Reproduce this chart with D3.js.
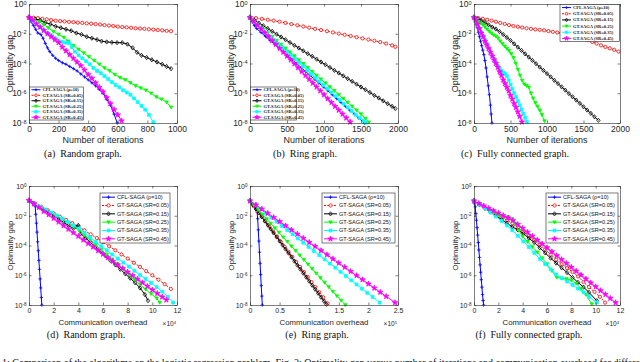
<!DOCTYPE html>
<html>
<head>
<meta charset="utf-8">
<script src="https://cdn.jsdelivr.net/npm/d3@7"></script>
<style>body{margin:0;background:#fff;}</style>
</head>
<body>
<div id="chart"></div>
<script>
(function(){

// legend labels, shared by all panels
const seriesLabels = ["CFL-SAGA (\u03c1=10)","GT-SAGA (SR=0.05)","GT-SAGA (SR=0.15)","GT-SAGA (SR=0.25)","GT-SAGA (SR=0.35)","GT-SAGA (SR=0.45)"];

// tick values
const yTicks = [1,1e-2,1e-4,1e-6,1e-8];
const ticksIter1000 = [0,200,400,600,800,1000];
const ticksIter2000 = [0,500,1000,1500,2000];
const ticksComm12 = [0,2,4,6,8,10,12];
const ticksComm25 = [0,0.5,1,1.5,2,2.5];

// every series: [x, log10(optimality gap)]
// (a) random graph, iterations
const a_cfl = [[0,-0.9],[15,-1.2],[30,-1.45],[45,-1.7],[60,-1.95],[80,-2.05],[95,-2.3],[110,-2.65],[125,-2.95],[140,-3.2],[160,-3.45],[180,-3.65],[200,-3.8],[225,-3.95],[250,-4.05],[275,-4.2],[300,-4.35],[325,-4.5],[350,-4.7],[375,-4.9],[400,-5.1],[425,-5.3],[450,-5.5],[475,-5.75],[500,-6.0],[525,-6.4],[550,-6.8],[575,-7.4],[596,-8.0]];
const a_sr05 = [[0,-0.9],[30,-0.92],[60,-0.95],[90,-1.0],[120,-1.03],[150,-1.08],[180,-1.13],[210,-1.15],[240,-1.17],[270,-1.2],[300,-1.22],[330,-1.25],[360,-1.27],[390,-1.3],[420,-1.32],[450,-1.35],[480,-1.38],[510,-1.42],[540,-1.45],[570,-1.48],[600,-1.52],[630,-1.55],[660,-1.57],[690,-1.6],[720,-1.63],[750,-1.65],[780,-1.67],[810,-1.7],[840,-1.72],[870,-1.75],[900,-1.77],[930,-1.8],[960,-1.83]];
const a_sr15 = [[0,-0.9],[40,-1.0],[75,-1.1],[110,-1.25],[145,-1.35],[180,-1.5],[215,-1.6],[250,-1.7],[285,-1.8],[320,-1.95],[355,-2.05],[390,-2.2],[425,-2.3],[460,-2.4],[490,-2.5],[525,-2.55],[560,-2.58],[595,-2.6],[630,-2.6],[665,-2.7],[700,-2.95],[730,-3.25],[760,-3.45],[795,-3.6],[830,-3.75],[865,-3.9],[900,-4.05],[930,-4.2],[960,-4.35]];
const a_sr25 = [[0,-0.9],[35,-1.05],[70,-1.2],[100,-1.4],[130,-1.6],[165,-1.85],[200,-2.05],[235,-2.25],[265,-2.5],[300,-2.8],[335,-3.05],[370,-3.3],[405,-3.55],[440,-3.8],[475,-4.05],[510,-4.3],[545,-4.5],[580,-4.75],[615,-4.95],[650,-5.1],[685,-5.3],[720,-5.5],[755,-5.65],[790,-5.8],[825,-6.0],[860,-6.25],[895,-6.4],[930,-6.6],[960,-6.95]];
const a_sr35 = [[0,-0.9],[25,-1.1],[50,-1.3],[75,-1.55],[100,-1.75],[125,-1.95],[150,-2.1],[175,-2.3],[200,-2.45],[225,-2.55],[250,-2.6],[270,-2.62],[290,-2.9],[310,-3.2],[335,-3.45],[360,-3.65],[385,-3.85],[410,-4.05],[435,-4.3],[460,-4.5],[485,-4.65],[510,-4.85],[535,-5.05],[560,-5.25],[585,-5.45],[610,-5.6],[635,-5.8],[660,-5.95],[685,-6.1],[710,-6.35],[735,-6.6],[760,-6.85],[785,-7.1],[810,-7.45],[840,-7.95]];
const a_sr45 = [[0,-0.9],[25,-1.1],[50,-1.35],[75,-1.55],[100,-1.78],[125,-2.0],[150,-2.2],[175,-2.4],[200,-2.6],[225,-2.9],[250,-3.15],[275,-3.4],[300,-3.65],[325,-3.9],[350,-4.15],[375,-4.45],[400,-4.75],[425,-5.0],[450,-5.3],[475,-5.6],[500,-5.9],[525,-6.3],[550,-6.7],[575,-7.1],[600,-7.45],[625,-7.85]];

// (b) ring graph, iterations
const b_cfl = [[0,-0.9],[30,-1.2],[60,-1.45],[90,-1.65],[150,-1.92],[210,-2.18],[270,-2.44],[330,-2.7],[390,-2.96],[450,-3.22],[510,-3.48],[570,-3.74],[630,-4.0],[690,-4.27],[750,-4.53],[810,-4.79],[870,-5.05],[930,-5.31],[990,-5.57],[1050,-5.83],[1110,-6.1],[1170,-6.36],[1230,-6.62],[1290,-6.88],[1350,-7.14],[1410,-7.4],[1470,-7.67],[1546,-8.0]];
const b_sr05 = [[0,-0.9],[80,-0.95],[160,-1.0],[240,-1.06],[320,-1.12],[400,-1.19],[480,-1.27],[560,-1.35],[640,-1.43],[720,-1.51],[800,-1.59],[880,-1.67],[960,-1.75],[1040,-1.83],[1120,-1.91],[1200,-1.99],[1280,-2.07],[1360,-2.15],[1440,-2.23],[1520,-2.31],[1600,-2.39],[1680,-2.47],[1760,-2.56],[1840,-2.66],[1920,-2.78],[1964,-2.88]];
const b_sr15 = [[0,-0.9],[60,-1.1],[120,-1.28],[180,-1.46],[240,-1.65],[300,-1.84],[360,-2.03],[420,-2.22],[480,-2.4],[540,-2.59],[600,-2.78],[660,-2.96],[720,-3.15],[780,-3.34],[840,-3.52],[900,-3.71],[960,-3.9],[1020,-4.08],[1080,-4.27],[1140,-4.46],[1200,-4.64],[1260,-4.83],[1320,-5.02],[1380,-5.2],[1440,-5.39],[1500,-5.58],[1560,-5.76],[1620,-5.95],[1680,-6.14],[1740,-6.32],[1800,-6.51],[1860,-6.7],[1920,-6.88],[1964,-7.03]];
const b_sr25 = [[0,-0.9],[60,-1.2],[120,-1.45],[180,-1.7],[240,-1.95],[300,-2.2],[360,-2.46],[420,-2.72],[480,-2.98],[540,-3.24],[600,-3.5],[660,-3.76],[720,-4.02],[780,-4.28],[840,-4.54],[900,-4.8],[960,-5.06],[1020,-5.32],[1080,-5.58],[1140,-5.84],[1200,-6.1],[1260,-6.36],[1320,-6.62],[1380,-6.88],[1440,-7.14],[1500,-7.4],[1560,-7.7],[1605,-7.95]];
const b_sr35 = [[0,-0.9],[55,-1.2],[110,-1.45],[165,-1.7],[220,-1.95],[275,-2.2],[330,-2.45],[385,-2.7],[440,-2.95],[495,-3.2],[550,-3.45],[605,-3.7],[660,-3.95],[715,-4.2],[770,-4.45],[825,-4.7],[880,-4.95],[935,-5.2],[990,-5.45],[1045,-5.7],[1100,-5.95],[1155,-6.2],[1210,-6.45],[1265,-6.7],[1320,-6.95],[1375,-7.2],[1430,-7.45],[1485,-7.65],[1540,-7.85],[1568,-7.98]];
const b_sr45 = [[0,-0.9],[50,-1.16],[100,-1.42],[150,-1.68],[200,-1.94],[250,-2.2],[300,-2.46],[350,-2.72],[400,-2.98],[450,-3.24],[500,-3.5],[550,-3.76],[600,-4.02],[650,-4.28],[700,-4.54],[750,-4.8],[800,-5.06],[850,-5.32],[900,-5.58],[950,-5.84],[1000,-6.1],[1050,-6.36],[1100,-6.62],[1150,-6.88],[1200,-7.14],[1250,-7.4],[1300,-7.66],[1353,-7.93]];

// (c) fully connected graph, iterations
const c_cfl = [[0,-0.9],[15,-1.15],[30,-1.4],[45,-1.6],[60,-1.9],[75,-2.2],[90,-2.5],[105,-2.8],[120,-3.1],[135,-3.4],[150,-3.8],[165,-4.3],[180,-4.9],[195,-5.5],[210,-6.1],[225,-6.8],[235,-7.4],[246,-8.0]];
const c_sr05 = [[0,-0.9],[60,-0.95],[120,-1.0],[180,-1.06],[240,-1.12],[300,-1.19],[360,-1.27],[420,-1.34],[480,-1.42],[540,-1.48],[600,-1.53],[660,-1.58],[720,-1.63],[780,-1.67],[840,-1.71],[900,-1.74],[960,-1.77],[1020,-1.82],[1080,-1.87],[1140,-1.92],[1200,-1.96],[1260,-2.0],[1320,-2.07],[1380,-2.14],[1440,-2.22],[1500,-2.32],[1560,-2.43],[1620,-2.55],[1680,-2.66],[1740,-2.78],[1800,-2.89],[1860,-2.98],[1920,-3.08],[1980,-3.2]];
const c_sr15 = [[0,-0.9],[50,-1.0],[100,-1.12],[150,-1.25],[200,-1.4],[250,-1.55],[300,-1.68],[350,-1.85],[400,-2.05],[450,-2.25],[500,-2.45],[550,-2.68],[600,-2.9],[650,-3.12],[700,-3.35],[750,-3.57],[800,-3.79],[850,-4.01],[900,-4.24],[950,-4.46],[1000,-4.68],[1050,-4.9],[1100,-5.13],[1150,-5.35],[1200,-5.57],[1250,-5.79],[1300,-6.02],[1350,-6.24],[1400,-6.46],[1450,-6.68],[1500,-6.91],[1550,-7.13],[1600,-7.35],[1650,-7.58],[1704,-7.82]];
const c_sr25 = [[0,-0.9],[30,-1.05],[60,-1.2],[90,-1.3],[120,-1.4],[150,-1.55],[180,-1.7],[210,-1.85],[240,-1.98],[270,-2.1],[300,-2.18],[330,-2.3],[360,-2.5],[390,-2.68],[420,-2.85],[450,-3.0],[480,-3.15],[510,-3.35],[540,-3.62],[570,-4.0],[600,-4.4],[630,-4.8],[660,-5.15],[690,-5.4],[720,-5.5],[750,-5.6],[780,-6.0],[810,-6.35],[840,-6.65],[870,-6.9],[900,-7.15],[930,-7.45],[966,-7.87]];
const c_sr35 = [[0,-0.9],[25,-1.15],[50,-1.4],[75,-1.65],[100,-1.9],[125,-2.15],[150,-2.4],[175,-2.65],[200,-2.9],[225,-3.15],[250,-3.4],[275,-3.65],[300,-3.9],[325,-4.15],[350,-4.35],[375,-4.5],[400,-4.6],[425,-4.7],[450,-4.85],[475,-5.13],[500,-5.41],[525,-5.69],[550,-5.97],[575,-6.25],[600,-6.53],[625,-6.81],[650,-7.09],[675,-7.37],[700,-7.65],[724,-7.93]];
const c_sr45 = [[0,-0.9],[25,-1.1],[50,-1.35],[75,-1.65],[100,-1.95],[125,-2.2],[150,-2.5],[175,-2.75],[200,-3.0],[225,-3.25],[250,-3.5],[275,-3.75],[300,-4.0],[325,-4.25],[350,-4.55],[375,-4.8],[400,-5.1],[425,-5.35],[450,-5.6],[475,-5.85],[500,-6.15],[525,-6.4],[550,-6.7],[575,-6.95],[600,-7.25],[625,-7.55],[656,-7.93]];

// (d) random graph, communication overhead (x 10^4)
const d_cfl = [[0,-1.0],[0.1,-1.04],[0.2,-1.08],[0.3,-1.13],[0.4,-1.2],[0.5,-1.35],[0.55,-1.9],[0.6,-2.5],[0.65,-3.1],[0.7,-3.75],[0.75,-4.35],[0.8,-5.0],[0.85,-5.6],[0.9,-6.25],[0.95,-6.85],[1.0,-7.5],[1.04,-8.0]];
const d_sr05 = [[0,-1.0],[0.5,-1.2],[1,-1.4],[1.5,-1.62],[2,-1.84],[2.5,-2.06],[3,-2.28],[3.5,-2.5],[4,-2.72],[4.5,-2.98],[5,-3.25],[5.5,-3.5],[6,-3.78],[6.5,-4.05],[7,-4.32],[7.5,-4.6],[8,-4.88],[8.5,-5.16],[9,-5.44],[9.5,-5.72],[10,-6.0],[10.5,-6.3],[11,-6.6],[11.5,-6.92]];
const d_sr15 = [[0,-1.0],[0.4,-1.2],[0.8,-1.4],[1.2,-1.6],[1.6,-1.8],[2.0,-2.0],[2.4,-2.22],[2.8,-2.44],[3.2,-2.66],[3.6,-2.85],[3.8,-2.75],[4.0,-2.65],[4.2,-3.2],[4.6,-3.5],[5.0,-3.8],[5.4,-4.1],[5.8,-4.4],[6.2,-4.7],[6.6,-5.0],[7.0,-5.3],[7.4,-5.6],[7.8,-5.9],[8.2,-6.2],[8.6,-6.5],[9.0,-6.85],[9.4,-7.3],[9.65,-7.71]];
const d_sr25 = [[0,-1.0],[0.45,-1.2],[0.9,-1.42],[1.35,-1.62],[1.8,-1.82],[2.25,-2.02],[2.7,-2.22],[3.15,-2.45],[3.6,-2.72],[4.05,-3.0],[4.5,-3.3],[4.95,-3.6],[5.4,-3.95],[5.85,-4.28],[6.3,-4.6],[6.75,-4.92],[7.2,-5.25],[7.65,-5.6],[8.1,-5.95],[8.55,-6.3],[9.0,-6.62],[9.45,-6.95],[9.9,-7.25],[10.35,-7.55],[10.6,-7.84]];
const d_sr35 = [[0,-1.0],[0.45,-1.18],[0.9,-1.38],[1.35,-1.58],[1.8,-1.78],[2.25,-1.98],[2.7,-2.2],[3.15,-2.42],[3.6,-2.65],[4.05,-2.85],[4.5,-3.15],[4.95,-3.45],[5.4,-3.75],[5.85,-4.05],[6.3,-4.32],[6.75,-4.6],[7.2,-4.88],[7.65,-5.15],[8.1,-5.42],[8.55,-5.7],[9.0,-5.98],[9.45,-6.25],[9.9,-6.52],[10.35,-6.8],[10.8,-7.1],[11.25,-7.45],[11.68,-7.84]];
const d_sr45 = [[0,-0.97],[0.4,-1.2],[0.8,-1.45],[1.2,-1.7],[1.6,-1.93],[2.0,-2.17],[2.4,-2.42],[2.8,-2.66],[3.2,-2.9],[3.6,-3.14],[4.0,-3.38],[4.4,-3.62],[4.8,-3.86],[5.2,-4.1],[5.6,-4.34],[6.0,-4.58],[6.4,-4.82],[6.8,-5.06],[7.2,-5.3],[7.6,-5.54],[8.0,-5.78],[8.4,-6.02],[8.8,-6.26],[9.2,-6.5],[9.6,-6.74],[10.0,-6.98],[10.4,-7.22],[10.8,-7.46],[11.14,-7.66]];

// (e) ring graph, communication overhead (x 10^5)
const e_cfl = [[0,-1.0],[0.02,-1.1],[0.04,-1.2],[0.06,-1.3],[0.08,-1.4],[0.1,-1.55],[0.12,-1.75],[0.13,-2.2],[0.14,-2.95],[0.15,-3.7],[0.16,-4.45],[0.17,-5.2],[0.18,-5.95],[0.19,-6.7],[0.2,-7.4],[0.208,-8.0]];
const e_sr05 = [[0,-1.0],[0.065,-1.35],[0.13,-1.7],[0.195,-2.04],[0.26,-2.38],[0.325,-2.72],[0.39,-3.06],[0.455,-3.4],[0.52,-3.74],[0.585,-4.08],[0.65,-4.42],[0.715,-4.76],[0.78,-5.1],[0.845,-5.44],[0.91,-5.78],[0.975,-6.12],[1.04,-6.46],[1.105,-6.8],[1.17,-7.14],[1.235,-7.48],[1.31,-7.9]];
const e_sr15 = [[0,-1.0],[0.05,-1.27],[0.1,-1.54],[0.15,-1.81],[0.2,-2.08],[0.25,-2.35],[0.3,-2.62],[0.35,-2.89],[0.4,-3.16],[0.45,-3.43],[0.5,-3.7],[0.55,-3.97],[0.6,-4.24],[0.65,-4.51],[0.7,-4.78],[0.75,-5.05],[0.8,-5.32],[0.85,-5.59],[0.9,-5.86],[0.95,-6.13],[1.0,-6.4],[1.05,-6.67],[1.1,-6.94],[1.15,-7.21],[1.2,-7.48],[1.25,-7.75],[1.29,-7.95]];
const e_sr25 = [[0,-1.0],[0.07,-1.3],[0.14,-1.61],[0.21,-1.91],[0.28,-2.22],[0.35,-2.52],[0.42,-2.83],[0.49,-3.13],[0.56,-3.44],[0.63,-3.74],[0.7,-4.05],[0.77,-4.35],[0.84,-4.66],[0.91,-4.96],[0.98,-5.27],[1.05,-5.57],[1.12,-5.88],[1.19,-6.18],[1.26,-6.49],[1.33,-6.79],[1.4,-7.1],[1.47,-7.4],[1.54,-7.7],[1.61,-8.0]];
const e_sr35 = [[0,-1.0],[0.09,-1.28],[0.18,-1.56],[0.27,-1.84],[0.36,-2.12],[0.45,-2.4],[0.54,-2.69],[0.63,-2.97],[0.72,-3.25],[0.81,-3.53],[0.9,-3.81],[0.99,-4.09],[1.08,-4.37],[1.17,-4.65],[1.26,-4.93],[1.35,-5.21],[1.44,-5.49],[1.53,-5.77],[1.62,-6.05],[1.71,-6.34],[1.8,-6.62],[1.89,-6.9],[1.98,-7.18],[2.07,-7.46],[2.19,-7.84]];
const e_sr45 = [[0,-1.0],[0.1,-1.27],[0.2,-1.55],[0.3,-1.83],[0.4,-2.11],[0.5,-2.39],[0.6,-2.67],[0.7,-2.95],[0.8,-3.23],[0.9,-3.51],[1.0,-3.79],[1.1,-4.06],[1.2,-4.34],[1.3,-4.62],[1.4,-4.9],[1.5,-5.18],[1.6,-5.46],[1.7,-5.74],[1.8,-6.02],[1.9,-6.3],[2.0,-6.58],[2.1,-6.86],[2.2,-7.14],[2.3,-7.42],[2.45,-7.84]];

// (f) fully connected graph, communication overhead (x 10^4)
const f_cfl = [[0,-1.0],[0.05,-1.2],[0.1,-1.4],[0.15,-1.85],[0.2,-2.3],[0.25,-2.8],[0.3,-3.3],[0.35,-3.8],[0.4,-4.3],[0.45,-4.8],[0.5,-5.3],[0.55,-5.8],[0.6,-6.3],[0.65,-6.8],[0.7,-7.3],[0.75,-7.7],[0.79,-8.0]];
const f_sr05 = [[0,-1.0],[0.45,-1.22],[0.9,-1.45],[1.35,-1.67],[1.8,-1.88],[2.25,-2.1],[2.7,-2.3],[3.15,-2.52],[3.6,-2.8],[4.05,-3.08],[4.5,-3.36],[4.95,-3.64],[5.4,-3.95],[5.85,-4.27],[6.3,-4.6],[6.75,-4.95],[7.2,-5.25],[7.65,-5.52],[8.1,-5.78],[8.55,-6.08],[9.0,-6.45],[9.45,-6.8],[9.9,-7.12],[10.35,-7.45],[10.77,-7.84]];
const f_sr15 = [[0,-1.0],[0.45,-1.25],[0.9,-1.5],[1.35,-1.75],[1.8,-2.0],[2.25,-2.25],[2.7,-2.5],[3.15,-2.75],[3.6,-2.95],[4.05,-3.2],[4.5,-3.5],[4.95,-3.8],[5.4,-4.15],[5.85,-4.5],[6.3,-4.85],[6.75,-5.18],[7.2,-5.5],[7.65,-5.82],[8.1,-6.15],[8.55,-6.48],[9.0,-6.8],[9.45,-7.15],[10.09,-7.71]];
const f_sr25 = [[0,-1.0],[0.5,-1.25],[1.0,-1.5],[1.5,-1.75],[2.0,-1.95],[2.5,-2.1],[2.8,-2.08],[3.1,-2.2],[3.4,-2.55],[3.7,-3.0],[4.0,-3.4],[4.4,-3.75],[4.8,-4.1],[5.2,-4.45],[5.6,-4.85],[6.0,-5.25],[6.4,-5.7],[6.8,-6.15],[7.2,-6.2],[7.6,-6.25],[8.0,-6.35],[8.4,-6.55],[8.8,-6.9],[9.2,-7.3],[9.68,-7.94]];
const f_sr35 = [[0,-1.0],[0.45,-1.25],[0.9,-1.5],[1.35,-1.78],[1.8,-2.05],[2.25,-2.35],[2.7,-2.65],[3.15,-2.98],[3.6,-3.35],[4.05,-3.72],[4.5,-4.1],[4.95,-4.5],[5.4,-4.9],[5.85,-5.25],[6.3,-5.6],[6.75,-5.95],[7.2,-6.2],[7.65,-6.42],[8.1,-6.65],[8.55,-6.9],[9.0,-7.15],[9.45,-7.45],[10.09,-7.84]];
const f_sr45 = [[0,-1.0],[0.4,-1.17],[0.8,-1.33],[1.2,-1.5],[1.6,-1.66],[2.0,-1.82],[2.4,-1.98],[2.8,-2.14],[3.2,-2.32],[3.6,-2.58],[4.0,-2.84],[4.4,-3.1],[4.8,-3.37],[5.2,-3.63],[5.6,-3.89],[6.0,-4.15],[6.4,-4.41],[6.8,-4.68],[7.2,-4.94],[7.6,-5.2],[8.0,-5.46],[8.4,-5.72],[8.8,-5.98],[9.2,-6.25],[9.6,-6.51],[10.0,-6.77],[10.4,-7.03],[10.8,-7.29],[11.2,-7.55],[11.64,-7.84]];

const width = 640, height = 362;
const axisColor = "#262626";
const sans = "'Liberation Sans', Arial, sans-serif";
const serif = "'Liberation Serif', 'Times New Roman', serif";

const styles = [
  {color:"#0000ff", mark:"plus", dash:null, fill:"none"},
  {color:"#ff0000", mark:"circle", dash:"2,1.3", fill:"#fff"},
  {color:"#000000", mark:"diamond", dash:null, fill:"none"},
  {color:"#00ff00", mark:"tri", dash:null, fill:"#00ff00"},
  {color:"#00ffff", mark:"square", dash:null, fill:"#00ffff"},
  {color:"#ff00ff", mark:"star", dash:null, fill:"#ff00ff"}
];

const top = {yr:[123,4], tickFont:8.5, labelFont:9, tickY:9, labelY:20};
const bot = {yr:[305,186], tickFont:7, labelFont:7.8, tickY:8.5, labelY:20};

const panels = [
  {row:top, xr:[29,177], dom:[0,1000], ticks:ticksIter1000, series:[a_cfl,a_sr05,a_sr15,a_sr25,a_sr35,a_sr45], xlabel:"Number of iterations", exp:null, caption:"(a)  Random graph.", capX:83, capY:157, ylabX:13, leg:{x:29.5,y:87,w:54,h:33}},
  {row:top, xr:[250,398], dom:[0,2000], ticks:ticksIter2000, series:[b_cfl,b_sr05,b_sr15,b_sr25,b_sr35,b_sr45], xlabel:"Number of iterations", exp:null, caption:"(b)  Ring graph.", capX:305, capY:157, ylabX:234, leg:{x:250.5,y:87,w:46,h:33}},
  {row:top, xr:[474,620], dom:[0,2000], ticks:ticksIter2000, series:[c_cfl,c_sr05,c_sr15,c_sr25,c_sr35,c_sr45], xlabel:"Number of iterations", exp:null, caption:"(c)  Fully connected graph.", capX:515, capY:157, ylabX:458, leg:{x:560,y:4.5,w:59.5,h:37}},
  {row:bot, xr:[29,177], dom:[0,12], ticks:ticksComm12, series:[d_cfl,d_sr05,d_sr15,d_sr25,d_sr35,d_sr45], xlabel:"Communication overhead", exp:"4", caption:"(d)  Random graph.", capX:86, capY:338, ylabX:13, leg:{x:100,y:193,w:70,h:50}},
  {row:bot, xr:[250,398], dom:[0,2.5], ticks:ticksComm25, series:[e_cfl,e_sr05,e_sr15,e_sr25,e_sr35,e_sr45], xlabel:"Communication overhead", exp:"5", caption:"(e)  Ring graph.", capX:317, capY:338, ylabX:234, leg:{x:322,y:193,w:73,h:50}},
  {row:bot, xr:[474,620], dom:[0,12], ticks:ticksComm12, series:[f_cfl,f_sr05,f_sr15,f_sr25,f_sr35,f_sr45], xlabel:"Communication overhead", exp:"4", caption:"(f)  Fully connected graph.", capX:529, capY:338, ylabX:458, leg:{x:546,y:193,w:72,h:50}}
];

const svg = d3.select("#chart")
  .append("svg")
  .attr("width", width)
  .attr("height", height)
  .style("display","block")
  .style("background","#fff");

function markPath(kind, s){
  switch(kind){
    case "plus": return `M${-s},0H${s}M0,${-s}V${s}`;
    case "circle": return d3.symbol(d3.symbolCircle, Math.PI*s*s*0.9)();
    case "diamond": return `M0,${-s*1.25}L${s},0L0,${s*1.25}L${-s},0Z`;
    case "tri": return `M${-s},${-s*0.75}L${s},${-s*0.75}L0,${s*0.95}Z`;
    case "square": return `M${-s*0.85},${-s*0.85}H${s*0.85}V${s*0.85}H${-s*0.85}Z`;
    default: return d3.symbol(d3.symbolStar, s*s*3.2)();
  }
}

function supText(sel, base, sup, size){
  sel.text(null);
  sel.append("tspan").text(base);
  sel.append("tspan").attr("dy", -size*0.3).attr("font-size", size*0.65).text(sup);
}

panels.forEach((p, pi) => {
  const r = p.row;
  const x = d3.scaleLinear().domain(p.dom).range(p.xr);
  const y = d3.scaleLog().domain([1e-8, 1]).range(r.yr);
  const g = svg.append("g");

  // white plot area
  g.append("rect")
    .attr("x", p.xr[0]).attr("y", r.yr[1])
    .attr("width", p.xr[1]-p.xr[0]).attr("height", r.yr[0]-r.yr[1])
    .attr("fill", "#fff");

  // series
  const clipId = "clip"+pi;
  g.append("clipPath").attr("id", clipId).append("rect")
    .attr("x", p.xr[0]-3).attr("y", r.yr[1]-3)
    .attr("width", p.xr[1]-p.xr[0]+6).attr("height", r.yr[0]-r.yr[1]+6);
  const plot = g.append("g").attr("clip-path", `url(#${clipId})`);
  const line = d3.line().x(d => x(d[0])).y(d => y(Math.pow(10, d[1])));
  const ms = 1.7;

  p.series.forEach((pts, i) => {
    const st = styles[i];
    plot.append("path")
      .attr("d", line(pts))
      .attr("fill", "none")
      .attr("stroke", st.color)
      .attr("stroke-width", 1)
      .attr("stroke-dasharray", st.dash);
    plot.selectAll(null)
      .data(pts)
      .enter()
      .append("path")
      .attr("transform", d => `translate(${x(d[0])},${y(Math.pow(10, d[1]))})`)
      .attr("d", markPath(st.mark, ms))
      .attr("fill", st.fill)
      .attr("stroke", st.color)
      .attr("stroke-width", 0.8);
  });

  // axes, MATLAB style: box with inward ticks
  const styleAxis = sel => {
    sel.selectAll(".domain").attr("stroke", axisColor).attr("stroke-width", 0.6);
    sel.selectAll(".tick line").attr("stroke", axisColor).attr("stroke-width", 0.6);
    sel.selectAll("text").attr("fill", axisColor).attr("font-family", sans).attr("font-size", r.tickFont);
  };

  g.append("g")
    .attr("transform", `translate(0,${r.yr[0]})`)
    .call(d3.axisBottom(x).tickValues(p.ticks).tickSize(-2.5).tickSizeOuter(0).tickPadding(r.tickY - r.tickFont*0.75).tickFormat(d => String(d)))
    .call(styleAxis);
  g.append("g")
    .attr("transform", `translate(0,${r.yr[1]})`)
    .call(d3.axisTop(x).tickValues(p.ticks).tickSize(-2.5).tickSizeOuter(0).tickFormat(""))
    .call(styleAxis);
  const yl = g.append("g")
    .attr("transform", `translate(${p.xr[0]},0)`)
    .call(d3.axisLeft(y).tickValues(yTicks).tickSize(-2.5).tickSizeOuter(0).tickPadding(2.5).tickFormat(d => String(Math.round(Math.log10(d)))))
    .call(styleAxis);
  yl.selectAll(".tick text").each(function(d){
    supText(d3.select(this), "10", String(Math.round(Math.log10(d))), r.tickFont);
  });
  g.append("g")
    .attr("transform", `translate(${p.xr[1]},0)`)
    .call(d3.axisRight(y).tickValues(yTicks).tickSize(-2.5).tickSizeOuter(0).tickFormat(""))
    .call(styleAxis);

  // axis labels
  g.append("text")
    .attr("x", (p.xr[0]+p.xr[1])/2)
    .attr("y", r.yr[0] + r.labelY)
    .attr("text-anchor", "middle")
    .attr("font-family", sans)
    .attr("font-size", r.labelFont)
    .attr("fill", axisColor)
    .text(p.xlabel);
  g.append("text")
    .attr("transform", `translate(${p.ylabX},${(r.yr[0]+r.yr[1])/2}) rotate(-90)`)
    .attr("text-anchor", "middle")
    .attr("font-family", sans)
    .attr("font-size", r.labelFont)
    .attr("fill", axisColor)
    .text("Optimality gap");
  if (p.exp) {
    g.append("text")
      .attr("x", p.xr[1] - 1)
      .attr("y", r.yr[0] + 21)
      .attr("text-anchor", "end")
      .attr("font-family", sans)
      .attr("font-size", 6.5)
      .attr("fill", axisColor)
      .call(s => supText(s, "\u00d710", p.exp, 6.5));
  }

  // caption
  g.append("text")
    .attr("x", p.capX)
    .attr("y", p.capY)
    .attr("text-anchor", "middle")
    .attr("font-family", serif)
    .attr("font-size", 10)
    .attr("fill", "#111")
    .style("white-space", "pre")
    .text(p.caption);

  // legend
  const L = p.leg;
  const isTop = p.row === top;
  const lg = g.append("g");
  lg.append("rect")
    .attr("x", L.x).attr("y", L.y).attr("width", L.w).attr("height", L.h)
    .attr("fill", "#fff").attr("stroke", axisColor).attr("stroke-width", 0.6);
  const rowH = L.h / 6;
  const sw = isTop ? 9 : 13;
  seriesLabels.forEach((lab, i) => {
    const st = styles[i];
    const cy = L.y + rowH*(i+0.5);
    lg.append("line")
      .attr("x1", L.x+2).attr("x2", L.x+2+sw)
      .attr("y1", cy).attr("y2", cy)
      .attr("stroke", st.color).attr("stroke-width", 1)
      .attr("stroke-dasharray", st.dash);
    lg.append("path")
      .attr("transform", `translate(${L.x+2+sw/2},${cy})`)
      .attr("d", markPath(st.mark, isTop ? 1.4 : 1.7))
      .attr("fill", st.fill).attr("stroke", st.color).attr("stroke-width", 0.8);
    lg.append("text")
      .attr("x", L.x+4+sw)
      .attr("y", cy)
      .attr("dy", "0.35em")
      .attr("font-family", isTop ? serif : sans)
      .attr("font-weight", isTop ? "bold" : "normal")
      .attr("font-size", isTop ? 4.5 : 5.6)
      .attr("fill", "#111")
      .text(lab);
  });
});

// figure caption line, cut off at the bottom edge
svg.append("text")
  .attr("x", 2)
  .attr("y", 366)
  .attr("font-family", serif)
  .attr("font-size", 10)
  .attr("fill", "#111")
  .text("1:  Comparison of the algorithms on the logistic regression problem.  Fig. 2:  Optimality gap versus number of iterations and communication overhead for different sampling ratios.");

})();
</script>
</body>
</html>
